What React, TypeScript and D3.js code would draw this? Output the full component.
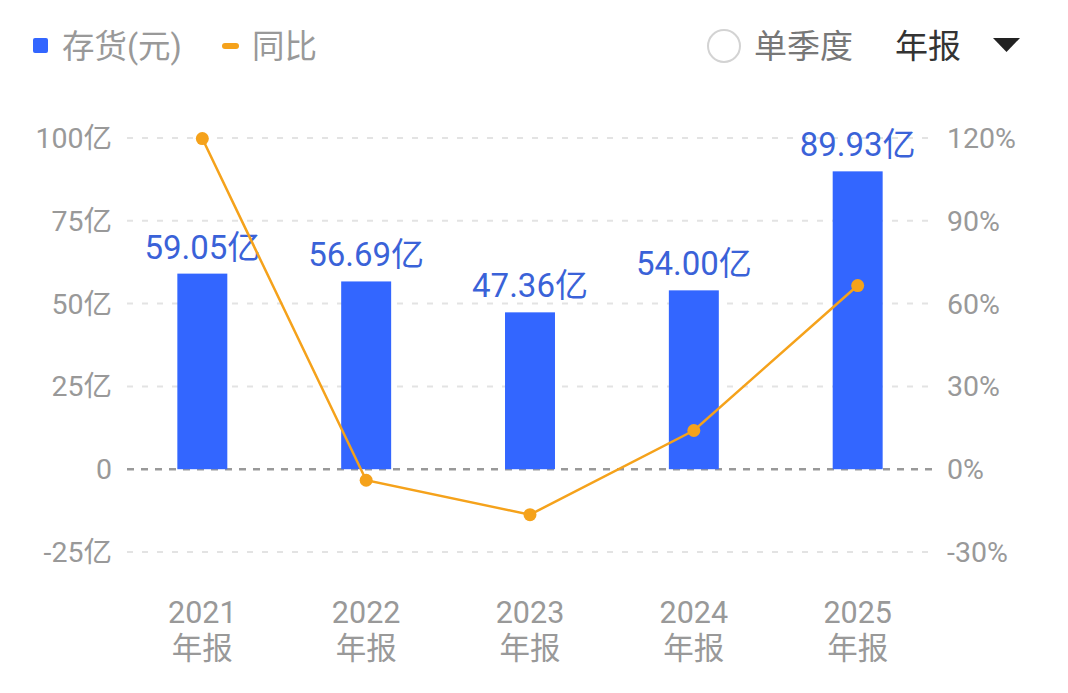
import React from "react";
import * as d3 from "d3";

const categories = ["2021", "2022", "2023", "2024", "2025"];
const inventory = [59.05, 56.69, 47.36, 54.0, 89.93];
const yoy = [119.8, -4.0, -16.46, 14.02, 66.54];
const leftTicks = [-25, 0, 25, 50, 75, 100];
const rightTicks = [-30, 0, 30, 60, 90, 120];

const W = 1068;
const H = 693;
const FONT = "Roboto, 'Noto Sans CJK SC', sans-serif";

export default function App() {
  const x = d3.scaleBand<string>().domain(categories).range([120, 940]).paddingInner(0.695).paddingOuter(0.35);
  const yL = d3.scaleLinear().domain([-25, 100]).range([552, 138]);
  const yR = d3.scaleLinear().domain([-30, 120]).range([552, 138]);
  const cx = (c: string) => (x(c) as number) + x.bandwidth() / 2;
  const line = d3
    .line<number>()
    .x((_, i) => cx(categories[i]))
    .y((d) => yR(d));

  return (
    <svg width={W} height={H} style={{ position: "absolute", left: 0, top: 0, background: "#fff" }}>
      {/* legend */}
      <rect x={33} y={38} width={15} height={15} rx={2} fill="#3366ff" />
      <text x={62} y={58} fontSize={32.5} fill="#999" fontFamily={FONT}>存货(元)</text>
      <rect x={222} y={43} width={17} height={6} rx={3} fill="#f5a21b" />
      <text x={252} y={58} fontSize={32.5} fill="#999" fontFamily={FONT}>同比</text>

      <circle cx={724} cy={46} r={16} fill="none" stroke="#d3d3d3" strokeWidth={2} />
      <text x={754} y={58} fontSize={33} fill="#777" fontFamily={FONT}>单季度</text>
      <text x={895} y={58} fontSize={33} fill="#333" fontFamily={FONT}>年报</text>
      <path d="M993,38 L1020,38 L1006.5,52 Z" fill="#222" />

      {/* grid */}
      {leftTicks.map((t) => (
        <line
          key={"g" + t}
          x1={127}
          x2={935}
          y1={yL(t)}
          y2={yL(t)}
          stroke={t === 0 ? "#999" : "#e3e3e3"}
          strokeWidth={t === 0 ? 2.5 : 2}
          strokeDasharray={t === 0 ? "7,7" : "6,9"}
        />
      ))}

      {/* left axis */}
      {leftTicks.map((t) => (
        <text key={"l" + t} x={112} y={yL(t) + 10} textAnchor="end" fontSize={28.5} fill="#999" fontFamily={FONT}>
          {t === 0 ? "0" : `${t}亿`}
        </text>
      ))}
      {/* right axis */}
      {rightTicks.map((t) => (
        <text key={"r" + t} x={947} y={yR(t) + 10} textAnchor="start" fontSize={28.5} fill="#999" fontFamily={FONT}>
          {`${t}%`}
        </text>
      ))}

      {/* bars */}
      {categories.map((c, i) => (
        <rect
          key={"b" + c}
          x={x(c)}
          y={yL(inventory[i])}
          width={x.bandwidth()}
          height={yL(0) - yL(inventory[i])}
          fill="#3366ff"
        />
      ))}
      {categories.map((c, i) => (
        <text
          key={"v" + c}
          x={cx(c)}
          y={yL(inventory[i]) - 15}
          textAnchor="middle"
          fontSize={33}
          fill="#3a62d8"
          fontFamily={FONT}
        >
          {`${inventory[i].toFixed(2)}亿`}
        </text>
      ))}

      {/* line */}
      <path d={line(yoy) || ""} fill="none" stroke="#f5a21b" strokeWidth={2.5} />
      {yoy.map((v, i) => (
        <circle key={"p" + i} cx={cx(categories[i])} cy={yR(v)} r={6.5} fill="#f5a21b" />
      ))}

      {/* x labels */}
      {categories.map((c) => (
        <g key={"x" + c}>
          <text x={cx(c)} y={623} textAnchor="middle" fontSize={30.5} fill="#999" fontFamily={FONT}>
            {c}
          </text>
          <text x={cx(c)} y={659} textAnchor="middle" fontSize={30.5} fill="#999" fontFamily={FONT}>
            年报
          </text>
        </g>
      ))}
    </svg>
  );
}
